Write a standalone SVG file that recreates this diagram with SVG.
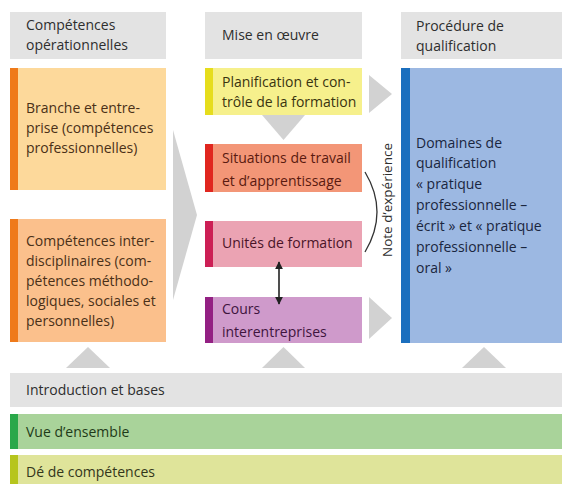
<svg xmlns="http://www.w3.org/2000/svg" width="562" height="484" viewBox="0 0 562 484">
<style>
text{font-family:"Open Sans","Liberation Sans",Arial,sans-serif;font-size:14px;fill:#2e2e2e}
.hd{fill:#e3e3e3}
.chev{fill:#d2d2d2}
</style>
<defs>
<marker id="ah" viewBox="0 0 10 10" refX="9" refY="5" markerWidth="5" markerHeight="5" orient="auto-start-reverse">
<path d="M0,0 L10,5 L0,10 z" fill="#222"/>
</marker>
</defs>
<rect width="562" height="484" fill="#ffffff"/>

<g id="hdr-left">
<rect class="hd" x="10" y="12" width="156" height="47"/>
<text x="26" y="30">Compétences</text>
<text x="26" y="50">opérationnelles</text>
</g>
<g id="hdr-mid">
<rect class="hd" x="205" y="12" width="157" height="47"/>
<text x="222" y="40">Mise en œuvre</text>
</g>
<g id="hdr-right">
<rect class="hd" x="401" y="12" width="161" height="47"/>
<text x="416" y="31">Procédure de</text>
<text x="416" y="51">qualification</text>
</g>

<g id="branche">
<rect x="10" y="68" width="156" height="122" fill="#fdd99b"/>
<rect x="10" y="68" width="8" height="122" fill="#ef7a1a"/>
<text x="26" y="113" style="fill:#4a3018">Branche et entre-</text>
<text x="26" y="133" style="fill:#4a3018">prise (compétences</text>
<text x="26" y="153" style="fill:#4a3018">professionnelles)</text>
</g>
<g id="interdisc">
<rect x="10" y="219" width="156" height="123" fill="#fbc08c"/>
<rect x="10" y="219" width="8" height="123" fill="#ef7a1a"/>
<text x="26" y="246" style="fill:#4a3018">Compétences inter-</text>
<text x="26" y="266" style="fill:#4a3018">disciplinaires (com-</text>
<text x="26" y="286" style="fill:#4a3018">pétences méthodo-</text>
<text x="26" y="306" style="fill:#4a3018">logiques, sociales et</text>
<text x="26" y="326" style="fill:#4a3018">personnelles)</text>
</g>

<g id="planif">
<rect x="205" y="68" width="157" height="47" fill="#f6f08c"/>
<rect x="205" y="68" width="8" height="47" fill="#e6dd1c"/>
<text x="222" y="87" style="fill:#3a3410">Planification et con-</text>
<text x="222" y="107" style="fill:#3a3410">trôle de la formation</text>
</g>
<g id="situations">
<rect x="205" y="144" width="157" height="48" fill="#f39677"/>
<rect x="205" y="144" width="8" height="48" fill="#e0261f"/>
<text x="222" y="163" style="fill:#5a1a10">Situations de travail</text>
<text x="222" y="186" style="fill:#5a1a10">et d’apprentissage</text>
</g>
<g id="unites">
<rect x="205" y="221" width="157" height="46" fill="#eba3b3"/>
<rect x="205" y="221" width="8" height="46" fill="#cc1f55"/>
<text x="222" y="248" style="fill:#4a1428">Unités de formation</text>
</g>
<g id="cours">
<rect x="205" y="297" width="157" height="46" fill="#cf9acb"/>
<rect x="205" y="297" width="8" height="46" fill="#932083"/>
<text x="222" y="314" style="fill:#3e143e">Cours</text>
<text x="222" y="337" style="fill:#3e143e">interentreprises</text>
</g>

<g id="domaines">
<rect x="401" y="68" width="161" height="275" fill="#9cb8e2"/>
<rect x="401" y="68" width="9" height="275" fill="#1b6fbe"/>
<text x="416" y="148" style="fill:#1a2640">Domaines de</text>
<text x="416" y="168" style="fill:#1a2640">qualification</text>
<text x="416" y="189" style="fill:#1a2640">« pratique</text>
<text x="416" y="210" style="fill:#1a2640">professionnelle –</text>
<text x="416" y="231" style="fill:#1a2640">écrit » et « pratique</text>
<text x="416" y="252" style="fill:#1a2640">professionnelle –</text>
<text x="416" y="273" style="fill:#1a2640">oral »</text>
</g>

<g id="intro">
<rect class="hd" x="10" y="373" width="552" height="34"/>
<text x="26" y="395">Introduction et bases</text>
</g>
<g id="vue">
<rect x="10" y="414" width="552" height="35" fill="#a9d39a"/>
<rect x="10" y="414" width="8" height="35" fill="#2aa84a"/>
<text x="26" y="437" style="fill:#1e3a18">Vue d’ensemble</text>
</g>
<g id="de">
<rect x="10" y="455" width="552" height="29" fill="#dfe49a"/>
<rect x="10" y="455" width="8" height="29" fill="#b6c51d"/>
<text x="26" y="477" style="fill:#33361a">Dé de compétences</text>
</g>

<g id="connectors">
<polygon class="chev" points="173,130 197,215 173,300"/>
<polygon class="chev" points="262,115 305,115 283.5,140"/>
<polygon class="chev" points="369,75 392,94 369,113"/>
<polygon class="chev" points="369,297 392,318 369,339"/>
<polygon class="chev" points="66,368 110,368 88,347"/>
<polygon class="chev" points="262,368 305,368 283.5,347"/>
<polygon class="chev" points="462,368 506,368 484,347"/>
<line x1="279" y1="262" x2="279" y2="304" stroke="#222" stroke-width="1.6" marker-start="url(#ah)" marker-end="url(#ah)"/>
<path d="M365,172 Q389,212 365,252" fill="none" stroke="#333" stroke-width="1.3"/>
<text transform="translate(392,200) rotate(-90)" text-anchor="middle" style="font-size:13.5px">Note d’expérience</text>
</g>
</svg>
